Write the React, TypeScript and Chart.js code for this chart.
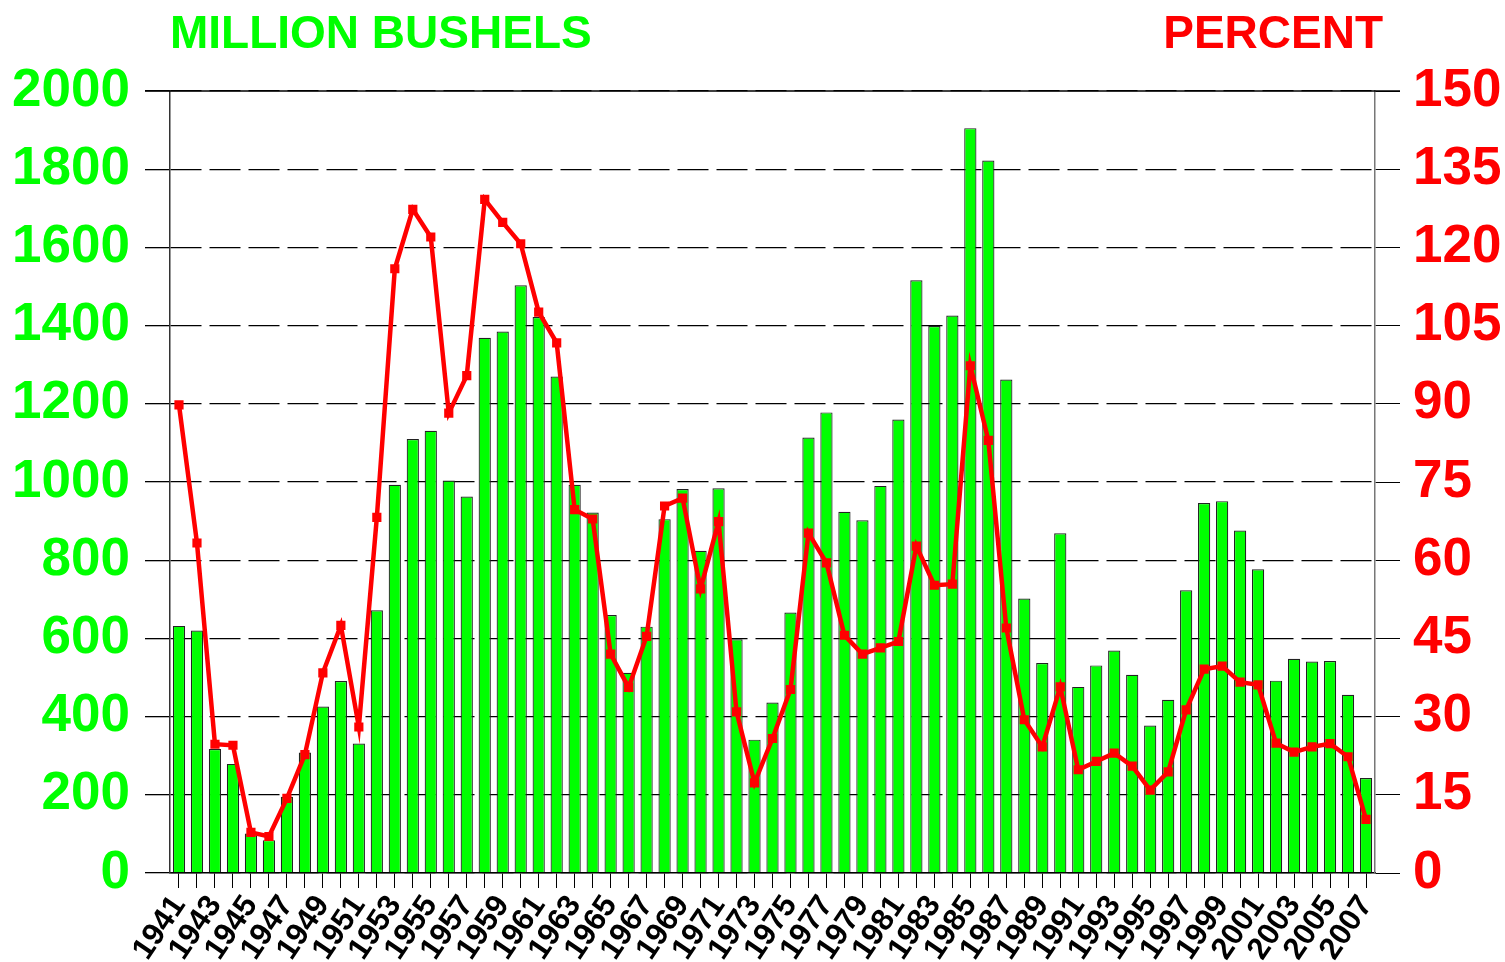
import React, { useEffect, useRef } from "react";
import { Chart, registerables } from "chart.js";

Chart.register(...registerables);

const years = [
  "1941", "1942", "1943", "1944", "1945", "1946", "1947", "1948", "1949", "1950",
  "1951", "1952", "1953", "1954", "1955", "1956", "1957", "1958", "1959", "1960",
  "1961", "1962", "1963", "1964", "1965", "1966", "1967", "1968", "1969", "1970",
  "1971", "1972", "1973", "1974", "1975", "1976", "1977", "1978", "1979", "1980",
  "1981", "1982", "1983", "1984", "1985", "1986", "1987", "1988", "1989", "1990",
  "1991", "1992", "1993", "1994", "1995", "1996", "1997", "1998", "1999", "2000",
  "2001", "2002", "2003", "2004", "2005", "2006", "2007",
];

const millionBushels = [
  632, 620, 317, 279, 101, 84, 195, 308, 426, 491,
  331, 672, 993, 1110, 1131, 1004, 963, 1369, 1385, 1503,
  1422, 1270, 993, 922, 660, 512, 630, 905, 982, 824,
  984, 598, 341, 436, 666, 1114, 1178, 924, 902, 990,
  1160, 1516, 1399, 1426, 1905, 1822, 1262, 702, 537, 869,
  476, 531, 569, 507, 377, 443, 723, 946, 951, 876,
  777, 492, 548, 541, 542, 456, 243,
];

const percent = [
  89.8, 63.3, 24.7, 24.5, 7.8, 7.0, 14.3, 22.7, 38.4, 47.5,
  28.0, 68.2, 115.9, 127.3, 122.0, 88.2, 95.4, 129.2, 124.8, 120.7,
  107.6, 101.7, 69.7, 67.9, 42.0, 35.6, 45.4, 70.4, 71.9, 54.5,
  67.4, 30.9, 17.3, 25.8, 35.2, 65.2, 59.5, 45.6, 42.0, 43.2,
  44.4, 62.7, 55.2, 55.4, 97.3, 83.0, 47.0, 29.4, 24.2, 35.7,
  19.8, 21.4, 23.0, 20.5, 15.9, 19.4, 31.3, 39.1, 39.7, 36.6,
  36.1, 24.9, 23.2, 24.2, 24.8, 22.3, 10.3,
];

const leftTitle = "MILLION BUSHELS";
const rightTitle = "PERCENT";

const GREEN = "#00FF00";
const RED = "#FF0000";
const FONT = '"Liberation Sans", Arial, sans-serif';

const titlesPlugin = {
  id: "titles",
  afterDraw(chart: any) {
    const { ctx, chartArea } = chart;
    ctx.save();
    ctx.strokeStyle = "#000";
    ctx.lineWidth = 1.5;
    ctx.beginPath();
    ctx.moveTo(chartArea.left - 25, chartArea.top);
    ctx.lineTo(chartArea.right + 25, chartArea.top);
    ctx.stroke();
    ctx.font = `bold 46px ${FONT}`;
    ctx.textBaseline = "middle";
    ctx.fillStyle = GREEN;
    ctx.textAlign = "left";
    ctx.fillText(leftTitle, chartArea.left, 35);
    ctx.fillStyle = RED;
    ctx.textAlign = "right";
    ctx.fillText(rightTitle, chartArea.right + 8, 35);
    ctx.restore();
  },
};

export default function App() {
  const ref = useRef<HTMLCanvasElement | null>(null);

  useEffect(() => {
    if (!ref.current) return;
    const chart = new Chart(ref.current, {
      type: "bar",
      data: {
        labels: years,
        datasets: [
          {
            type: "line",
            label: "Percent",
            data: percent,
            yAxisID: "y1",
            borderColor: RED,
            backgroundColor: RED,
            borderWidth: 4.5,
            tension: 0,
            pointStyle: "rect",
            pointRadius: 6.5,
            pointBorderWidth: 0,
            pointBackgroundColor: RED,
            order: 0,
          } as any,
          {
            type: "bar",
            label: "Million bushels",
            data: millionBushels,
            yAxisID: "y",
            backgroundColor: GREEN,
            borderColor: "#222",
            borderWidth: 1.2,
            categoryPercentage: 1,
            barPercentage: 0.68,
            order: 1,
          },
        ],
      },
      options: {
        animation: false,
        responsive: false,
        layout: { padding: { left: 0, right: 0, top: 91, bottom: 0 } },
        plugins: {
          legend: { display: false },
          tooltip: { enabled: false },
          title: { display: false },
        },
        scales: {
          x: {
            offset: true,
            afterFit: (s: any) => {
              s.height = 89;
            },
            grid: {
              offset: false,
              drawOnChartArea: false,
              drawTicks: true,
              tickLength: 15,
              tickColor: "#000",
            },
            border: { display: true, color: "#000", width: 1.5 },
            ticks: {
              autoSkip: false,
              maxRotation: 56,
              minRotation: 56,
              padding: 1,
              color: "#000",
              font: { family: FONT, size: 31, weight: "bold" },
              callback: (_v: any, i: number) => (i % 2 === 0 ? years[i] : ""),
            },
          },
          y: {
            position: "left",
            min: 0,
            max: 2000,
            afterFit: (s: any) => {
              s.width = 170;
            },
            grid: {
              color: "#000",
              lineWidth: 1.3,
              tickLength: 25,
              tickColor: "#000",
            },
            border: { display: true, color: "#333", width: 1.5, dash: [31, 8] },
            ticks: {
              stepSize: 200,
              padding: 15,
              color: GREEN,
              font: { family: FONT, size: 53, weight: "bold" },
              callback: (v: any) => String(v),
            },
          },
          y1: {
            position: "right",
            min: 0,
            max: 150,
            afterFit: (s: any) => {
              s.width = 130;
            },
            grid: {
              drawOnChartArea: false,
              tickLength: 25,
              tickColor: "#000",
            },
            border: { display: true, color: "#777", width: 1.5 },
            ticks: {
              stepSize: 15,
              padding: 13,
              color: RED,
              font: { family: FONT, size: 53, weight: "bold" },
              callback: (v: any) => String(v),
            },
          },
        },
      },
      plugins: [titlesPlugin],
    });
    return () => chart.destroy();
  }, []);

  return (
    <div style={{ position: "fixed", left: 0, top: 0, width: 1505, height: 962, background: "#fff" }}>
      <canvas ref={ref} width={1505} height={962} />
    </div>
  );
}
